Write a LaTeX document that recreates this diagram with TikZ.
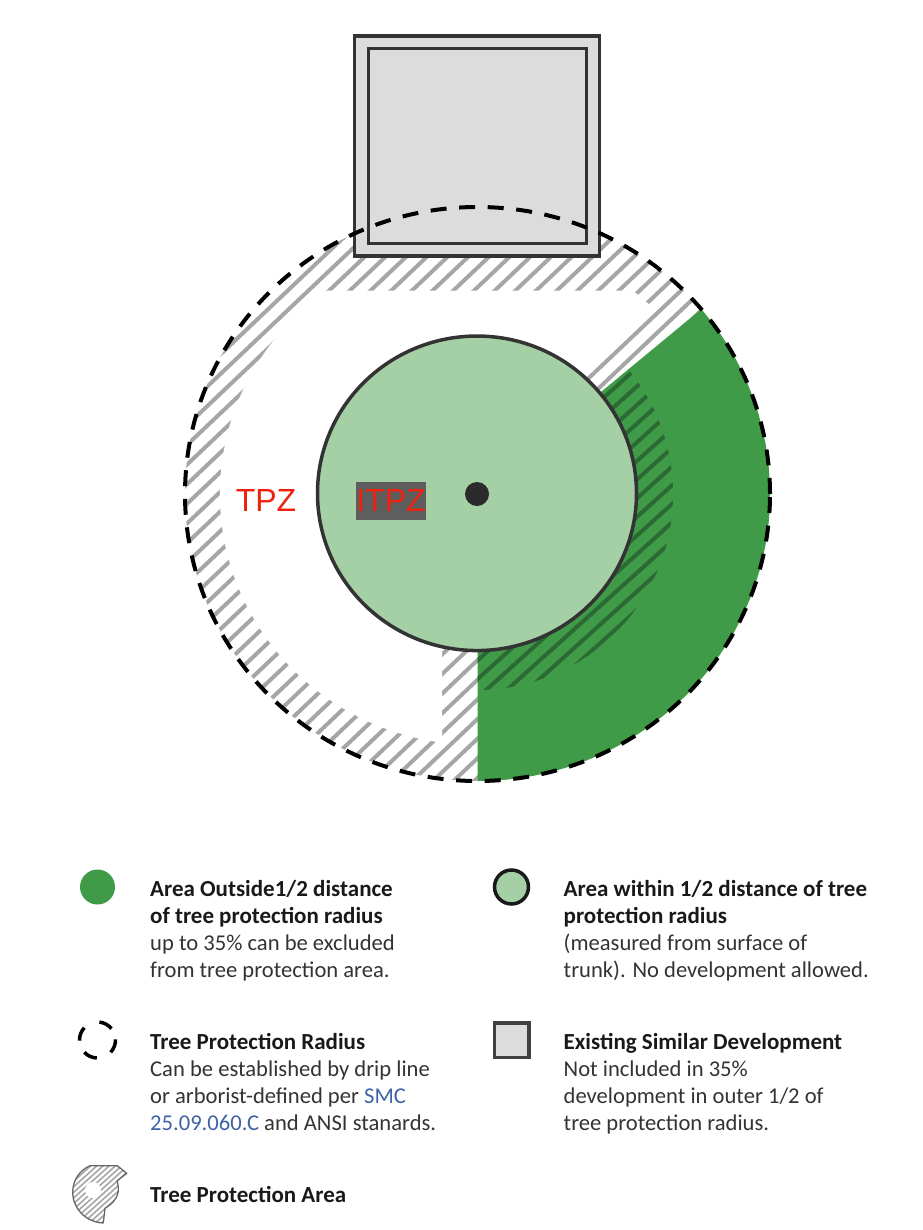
\documentclass[tikz,border=0pt]{standalone}
\usepackage{fontspec}
\setmainfont{Carlito}
\newfontfamily\labelfont{Liberation Sans}
\usepackage{xcolor}
\usetikzlibrary{shapes.geometric}
\definecolor{darkgreen}{HTML}{3F9B47}
\definecolor{lightgreen}{HTML}{A5CFA5}
\definecolor{hatchgray}{HTML}{A6A6A6}
\definecolor{hatchgreen}{HTML}{2B6A34}
\definecolor{devgray}{HTML}{DCDCDC}
\definecolor{inkgray}{HTML}{333333}
\definecolor{linkblue}{HTML}{3F62A6}
\definecolor{zonered}{HTML}{F0200E}
\newcommand{\keyhead}[1]{{\fontsize{23}{27}\selectfont\bfseries\color{black!90}#1}}

\begin{document}
\begin{tikzpicture}[
  x=1pt,
  y=1pt,
  font=\fontsize{22.6}{27}\selectfont,
  devbox/.style={draw=inkgray, fill=devgray, line width=3.5pt, inner sep=0pt},
  zone/.style={draw=inkgray, fill=lightgreen, line width=3.5pt, inner sep=0pt},
  boundary/.style={draw=black, line width=4pt, dash pattern=on 16pt off 12.6pt},
  stripe/.style={line width=4pt, draw=hatchgray},
  legendtext/.style={anchor=north west, align=left, inner sep=0pt, text=inkgray},
  zonelabel/.style={font=\fontsize{32}{32}\selectfont\labelfont, text=zonered, inner sep=0pt}
]
\useasboundingbox (0,0) rectangle (922,-1230);

% hatched ring
\begin{scope}
  \clip (477.5,-494) ellipse [x radius=292.5, y radius=287];
  \foreach \k in {-5,...,40} {
    \draw[stripe] ({329+20.7*\k-527.4},-790.7) -- ({329+20.7*\k+284.8},-20.7);
  }
\end{scope}
\fill[white] (442,-500) -- (442,-742.7)
  arc [start angle=262.2, end angle=125.9, x radius=257, y radius=251]
  -- (633,-290.7) -- (650,-305) -- (580,-372) -- cycle;

% outer half of the radius
\fill[darkgreen] (477.5,-494) -- (477.5,-781)
  arc [start angle=270, end angle=400.1, x radius=292.5, y radius=287] -- cycle;
\begin{scope}
  \clip (477.5,-494) -- (477.5,-781)
    arc [start angle=270, end angle=400.1, x radius=292.5, y radius=287] -- cycle;
  \clip (477,-494) circle [radius=196];
  \foreach \k in {-5,...,40} {
    \draw[stripe, draw=hatchgreen] ({329+20.7*\k-555},-790.7) -- ({329+20.7*\k+300},-20.7);
  }
\end{scope}

\node[devbox, minimum width=245pt, minimum height=220pt] (outerdev) at (477,-146) {};
\node[devbox, line width=3pt, minimum width=218pt, minimum height=195pt] (innerdev) at (477.5,-146) {};
\node[zone, ellipse, minimum width=319pt, minimum height=314.5pt] (itpz) at (477,-493.3) {};
\node[circle, fill=inkgray!85!black, minimum size=24pt, inner sep=0pt] (trunk) at (477,-494) {};
\draw[boundary] (477.5,-494) ellipse [x radius=292.5, y radius=287];

\node[zonelabel] (tpzlabel) at (266,-500.5) {TPZ};
\node[fill=black!63, minimum width=70pt, minimum height=38pt, inner sep=0pt] (itpzbox) at (391,-501) {};
\node[zonelabel] (itpzlabel) at (391,-500.5) {ITPZ};

% legend
\node[circle, fill=darkgreen, minimum size=35pt, inner sep=0pt] (keyouter) at (97.5,-887) {};
\node[zone, circle, draw=black!90, minimum size=34pt] (keyinner) at (511.5,-887) {};
\foreach \a in {39,-43,-137,137} {
  \draw[draw=black, line width=3.5pt] (97.5,-1040) ++(\a:18) arc [start angle=\a, end angle=\a+45, radius=18];
}
\node[devbox, draw=black!75, minimum size=34.5pt] (keydev) at (511.5,-1040) {};

\begin{scope}
  \clip (90,-1165.7) -- (117.3,-1165.7) -- (126.7,-1173.3) -- (117,-1181)
    .. controls (120,-1190) and (119,-1200) .. (105,-1208.3) -- (103.3,-1223)
    .. controls (85,-1222) and (72.7,-1208) .. (72.7,-1192)
    .. controls (72.7,-1180) and (80,-1170) .. (90,-1165.7) -- cycle;
  \foreach \k in {-12,...,12} {
    \draw[line width=1.6pt, draw=hatchgray] ({95+6.2*\k-60},-1255) -- ({95+6.2*\k+60},-1147);
  }
\end{scope}
\fill[white] (93,-1190) circle [radius=8];
\draw[line width=1.3pt, draw=black!60, line join=round] (90,-1165.7) -- (117.3,-1165.7) -- (126.7,-1173.3) -- (117,-1181)
    .. controls (120,-1190) and (119,-1200) .. (105,-1208.3) -- (103.3,-1223)
    .. controls (85,-1222) and (72.7,-1208) .. (72.7,-1192)
    .. controls (72.7,-1180) and (80,-1170) .. (90,-1165.7) -- cycle;

\node[legendtext] (keyoutertext) at (150,-880.5) {\keyhead{Area Outside1/2 distance}\\
  \keyhead{of tree protection radius}\\
  up to 35\% can be excluded\\
  from tree protection area.};
\node[legendtext] (keyinnertext) at (563.5,-880.5) {\keyhead{Area within 1/2 distance of tree}\\
  \keyhead{protection radius}\\
  (measured from surface of\\
  trunk). No development allowed.};
\node[legendtext] (keyradiustext) at (150,-1033.5) {\keyhead{Tree Protection Radius}\\
  Can be established by drip line\\
  or arborist-defined per {\color{linkblue}SMC}\\
  {\color{linkblue}25.09.060.C} and ANSI stanards.};
\node[legendtext] (keydevtext) at (563.5,-1033.5) {\keyhead{Existing Similar Development}\\
  Not included in 35\%\\
  development in outer 1/2 of\\
  tree protection radius.};
\node[legendtext] (keyareatext) at (150,-1186) {\keyhead{Tree Protection Area}};

\end{tikzpicture}
\end{document}
